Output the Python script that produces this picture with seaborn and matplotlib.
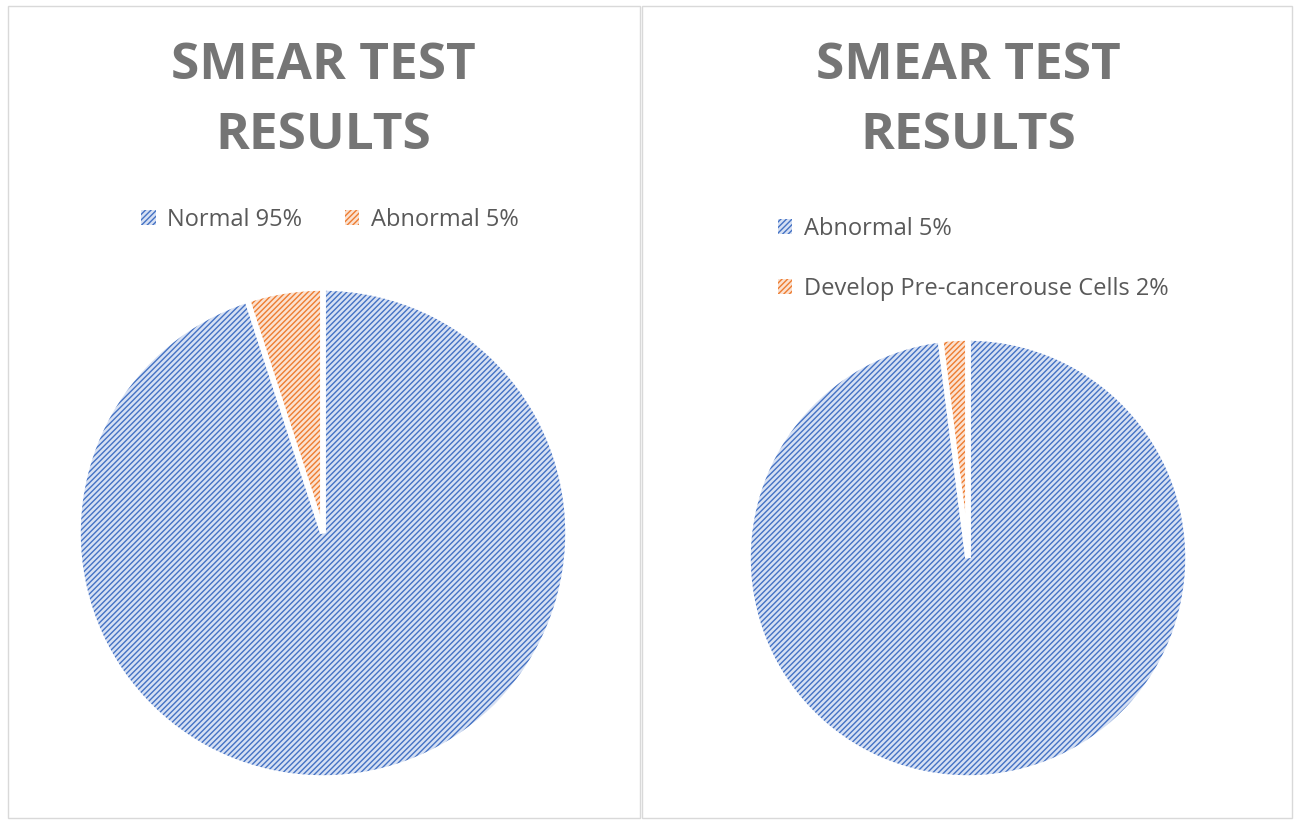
import matplotlib
matplotlib.use("Agg")
import matplotlib.pyplot as plt
import seaborn as sns
from matplotlib.patches import Patch, Rectangle

sns.set_style("white")
plt.rcParams['font.family'] = ['Open Sans', 'DejaVu Sans']

title = "SMEAR TEST\nRESULTS"
left_labels = ["Normal 95%", "Abnormal 5%"]
left_values = [95, 5]
right_labels = ["Abnormal 5%", "Develop Pre-cancerouse Cells 2%"]
right_values = [98, 2]

blue, orange = "#4472C4", "#ED7D31"
blue_f, orange_f = "#D6E0F3", "#FBE1D0"
grey = "#595959"
title_grey = "#757575"

fig = plt.figure(figsize=(13, 8.24), dpi=100)
fig.patches.append(Rectangle((8/1300, 6/824), 632/1300, 812/824, transform=fig.transFigure,
                             fill=False, edgecolor="#D9D9D9", lw=1))
fig.patches.append(Rectangle((642/1300, 6/824), 650/1300, 812/824, transform=fig.transFigure,
                             fill=False, edgecolor="#D9D9D9", lw=1))

def draw(rect, values):
    ax = fig.add_axes(rect)
    w, _ = ax.pie(values, colors=[blue_f, orange_f], startangle=90, counterclock=False,
                  wedgeprops=dict(linewidth=0))
    for wedge, c in zip(w, [blue, orange]):
        wedge.set_hatch("//////")
        wedge.set_edgecolor(c)
        wedge.set_linewidth(0)
    ax.pie(values, colors=["none", "none"], startangle=90, counterclock=False,
           wedgeprops=dict(linewidth=4, edgecolor="white", fill=False))
    ax.set_xlim(-1.0, 1.0); ax.set_ylim(-1.0, 1.0)
    ax.set_aspect("equal"); ax.axis("off")

draw([(323-245)/1300, (824-533-245)/824, 490/1300, 490/824], left_values)
draw([(968-220)/1300, (824-558-220)/824, 440/1300, 440/824], right_values)

for x in (323/1300, 968/1300):
    fig.text(x, 1-101/824, title, ha="center", va="center", fontsize=37, fontweight="bold",
             color=title_grey, linespacing=1.55)

def handle(c, f):
    return Patch(facecolor=f, edgecolor=c, hatch="//////", lw=0)

fig.legend([handle(blue, blue_f), handle(orange, orange_f)], left_labels, ncol=2,
           loc="center", bbox_to_anchor=(330/1300, 1-220/824), frameon=False, fontsize=17,
           labelcolor=grey, handlelength=0.6, handleheight=0.6, columnspacing=1.8, handletextpad=0.5)
fig.legend([handle(blue, blue_f), handle(orange, orange_f)], right_labels, ncol=1,
           loc="upper left", bbox_to_anchor=(757/1300, 1-196/824), frameon=False, fontsize=17,
           labelcolor=grey, handlelength=0.6, handleheight=0.6, labelspacing=1.5, handletextpad=0.5)

fig.savefig("out.png", dpi=100, facecolor="white")
